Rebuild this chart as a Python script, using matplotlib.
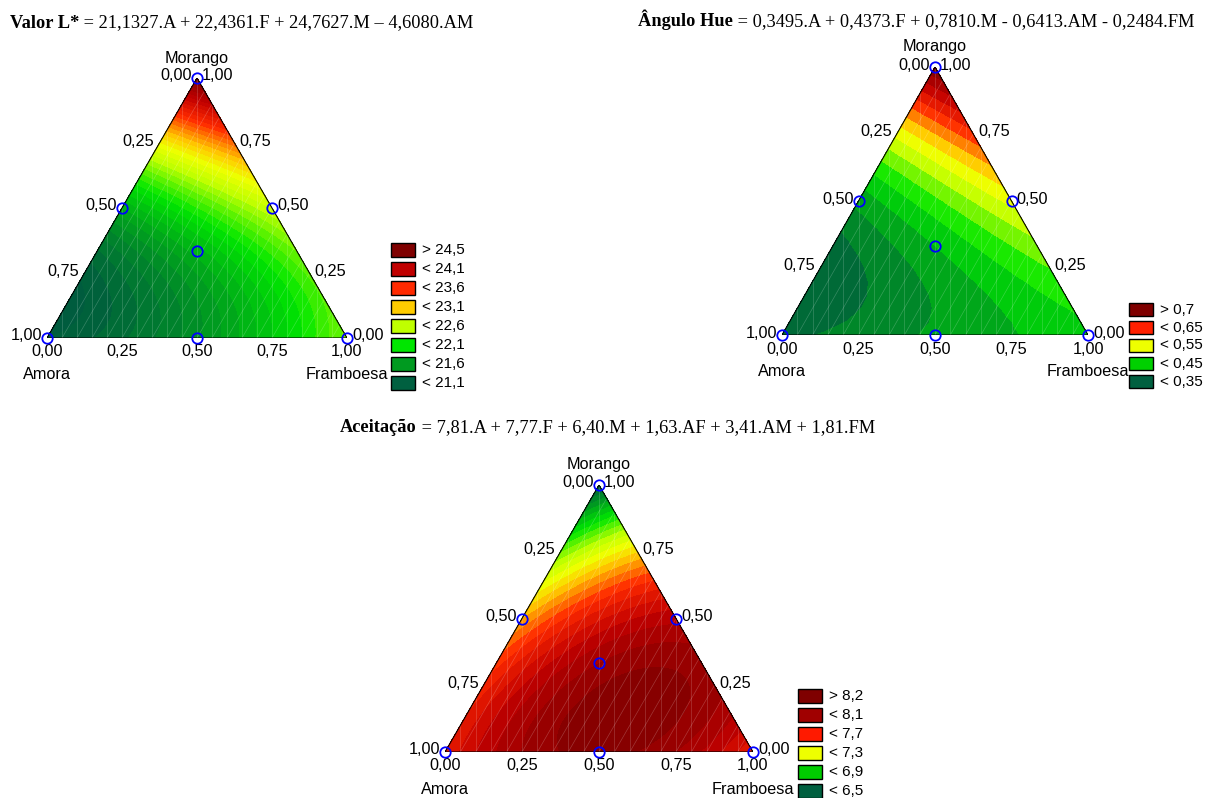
import numpy as np
import matplotlib
matplotlib.use('Agg')
import matplotlib.pyplot as plt
import matplotlib.tri as mtri
from matplotlib.colors import LinearSegmentedColormap, Normalize
from matplotlib.patches import Polygon, Rectangle

W, H = 1205, 798
S3 = np.sqrt(3) / 2

# mixture design (Amora, Framboesa, Morango): vertices, edge midpoints, centroid
design_A = [1, 0, 0, 0.5, 0.5, 0, 1 / 3]
design_F = [0, 1, 0, 0.5, 0, 0.5, 1 / 3]
design_M = [0, 0, 1, 0, 0.5, 0.5, 1 / 3]

# response read at the design points (same order as above)
lstar_values = [21.10, 22.45, 24.76, 21.55, 21.75, 22.70, 21.80]
hue_values = [0.35, 0.44, 0.78, 0.395, 0.40, 0.55, 0.42]
acc_values = [7.81, 7.80, 6.40, 8.20, 7.50, 8.00, 8.10]

lstar_legend = ['> 24,5', '< 24,1', '< 23,6', '< 23,1', '< 22,6', '< 22,1', '< 21,6', '< 21,1']
lstar_colors = ['#7f0000', '#c00000', '#ff2a00', '#ffcc00', '#bfff00', '#00e600', '#009a20', '#006040']
hue_legend = ['> 0,7', '< 0,65', '< 0,55', '< 0,45', '< 0,35']
hue_colors = ['#7f0000', '#ff2000', '#eeff00', '#00d000', '#006040']
acc_legend = ['> 8,2', '< 8,1', '< 7,7', '< 7,3', '< 6,9', '< 6,5']
acc_colors = ['#7f0000', '#a00000', '#ff1a00', '#eeff00', '#00cc00', '#006040']

tick_values = [0, 0.25, 0.5, 0.75, 1.0]
tick_labels = ['0,00', '0,25', '0,50', '0,75', '1,00']

stat_cmap = LinearSegmentedColormap.from_list('statistica', [
    (0.00, '#005c3e'), (0.14, '#009a20'), (0.28, '#00e600'), (0.42, '#bfff00'),
    (0.50, '#eeff00'), (0.57, '#ffcc00'), (0.71, '#ff2a00'), (0.85, '#c00000'),
    (1.00, '#7f0000')])

SANS = 'Liberation Sans'
SERIF = 'Liberation Serif'


def to_xy(a, f, m):
    f = np.asarray(f, dtype=float)
    m = np.asarray(m, dtype=float)
    return f + m / 2, m * S3


def special_cubic(values):
    # Scheffé special cubic through the 7 design points
    a, f, m = np.array(design_A), np.array(design_F), np.array(design_M)
    X = np.column_stack([a, f, m, a * f, a * m, f * m, a * f * m])
    return np.linalg.solve(X, np.array(values))


def surface(values, n):
    b = special_cubic(values)
    pts = [(i / n, j / n) for i in range(n + 1) for j in range(n + 1 - i)]
    f = np.array([p[0] for p in pts])
    m = np.array([p[1] for p in pts])
    a = np.clip(1 - f - m, 0, 1)
    z = (b[0] * a + b[1] * f + b[2] * m + b[3] * a * f + b[4] * a * m
         + b[5] * f * m + b[6] * a * f * m)
    x, y = to_xy(a, f, m)
    return mtri.Triangulation(x, y), z


def px(v):
    return v * 0.72


def ternary(fig, box, values, vmin, vmax, nlev, n):
    left, right, bottom, top = box
    ax = fig.add_axes([left / W, 1 - bottom / H, (right - left) / W, (bottom - top) / H])
    ax.set_xlim(0, 1)
    ax.set_ylim(0, S3)
    ax.axis('off')

    tri, z = surface(values, n)
    levels = np.linspace(vmin, vmax, nlev)
    ax.tricontourf(tri, z, levels=levels, cmap=stat_cmap,
                   norm=Normalize(vmin, vmax), extend='both')

    outline = Polygon([(0, 0), (1, 0), (0.5, S3)], closed=True, fill=False,
                      edgecolor='black', lw=0.8, zorder=4)
    ax.add_patch(outline)

    # faint surface mesh
    for c in np.linspace(0, 1, 21)[1:-1]:
        ln1, = ax.plot([c, c], [0, S3], color='white', lw=0.5, alpha=0.22, zorder=3)
        ln2, = ax.plot([c, c + 0.5], [0, S3], color='white', lw=0.5, alpha=0.22, zorder=3)
        ln1.set_clip_path(outline)
        ln2.set_clip_path(outline)

    dx, dy = to_xy(design_A, design_F, design_M)
    ax.plot(dx, dy, 'o', mfc='none', mec='#0000ff', ms=7.5, mew=1.3,
            clip_on=False, zorder=6)

    fs = 11.7
    for v, lab in zip(tick_values, tick_labels):
        # Amora axis on the left edge
        x, y = to_xy(v, 0, 1 - v)
        ax.annotate(lab, (x, y), xytext=(px(-5), px(2)), textcoords='offset points',
                    ha='right', va='center', fontsize=fs, family=SANS, annotation_clip=False)
        # Morango axis on the right edge
        x, y = to_xy(0, 1 - v, v)
        ax.annotate(lab, (x, y), xytext=(px(5), px(2)), textcoords='offset points',
                    ha='left', va='center', fontsize=fs, family=SANS, annotation_clip=False)
        # Framboesa axis on the bottom edge
        x, y = to_xy(1 - v, v, 0)
        ax.annotate(lab, (x, y), xytext=(0, px(-14)), textcoords='offset points',
                    ha='center', va='center', fontsize=fs, family=SANS, annotation_clip=False)

    ax.annotate('Morango', (0.5, S3), xytext=(0, px(20)), textcoords='offset points',
                ha='center', va='center', fontsize=fs, family=SANS, annotation_clip=False)
    ax.annotate('Amora', (0, 0), xytext=(0, px(-37)), textcoords='offset points',
                ha='center', va='center', fontsize=fs, family=SANS, annotation_clip=False)
    ax.annotate('Framboesa', (1, 0), xytext=(0, px(-37)), textcoords='offset points',
                ha='center', va='center', fontsize=fs, family=SANS, annotation_clip=False)
    return ax


def draw_legend(fig, labels, colors, x, y_top, step, box_h):
    for i, (lab, col) in enumerate(zip(labels, colors)):
        y = y_top + i * step
        fig.add_artist(Rectangle((x / W, 1 - (y + box_h) / H), 24 / W, box_h / H,
                                 facecolor=col, edgecolor='black', lw=1.0,
                                 transform=fig.transFigure))
        fig.text((x + 31) / W, 1 - (y + box_h / 2) / H, lab, va='center',
                 fontsize=11, family=SANS)


def title(ax, x, y, bold, rest, size=13.2):
    t = ax.figure.text(x / W, 1 - y / H, bold, fontsize=size, fontweight='bold',
                       family=SERIF, va='center')
    ax.annotate(rest, xy=(1, 0), xycoords=t, va='bottom', ha='left',
                fontsize=size, family=SERIF, annotation_clip=False)


def main():
    fig = plt.figure(figsize=(W / 100, H / 100), dpi=100)

    ax1 = ternary(fig, (47, 347, 338, 78), lstar_values, 21.1, 24.76, 40, 60)
    ax2 = ternary(fig, (782, 1088, 335, 67), hue_values, 0.33, 0.78, 16, 20)
    ax3 = ternary(fig, (445, 753, 752, 485), acc_values, 6.4, 8.25, 26, 40)

    draw_legend(fig, lstar_legend, lstar_colors, 391, 243, 19, 14)
    draw_legend(fig, hue_legend, hue_colors, 1129, 303, 18, 13)
    draw_legend(fig, acc_legend, acc_colors, 798, 689, 19, 14)

    title(ax1, 10, 23, 'Valor L*', ' = 21,1327.A + 22,4361.F + 24,7627.M \u2013 4,6080.AM')
    title(ax2, 638, 20, '\u00c2ngulo Hue', ' = 0,3495.A + 0,4373.F + 0,7810.M - 0,6413.AM - 0,2484.FM')
    title(ax3, 340, 428, 'Aceita\u00e7\u00e3o', ' = 7,81.A + 7,77.F + 6,40.M + 1,63.AF + 3,41.AM + 1,81.FM')

    fig.savefig('out.png', dpi=100)


if __name__ == '__main__':
    main()
